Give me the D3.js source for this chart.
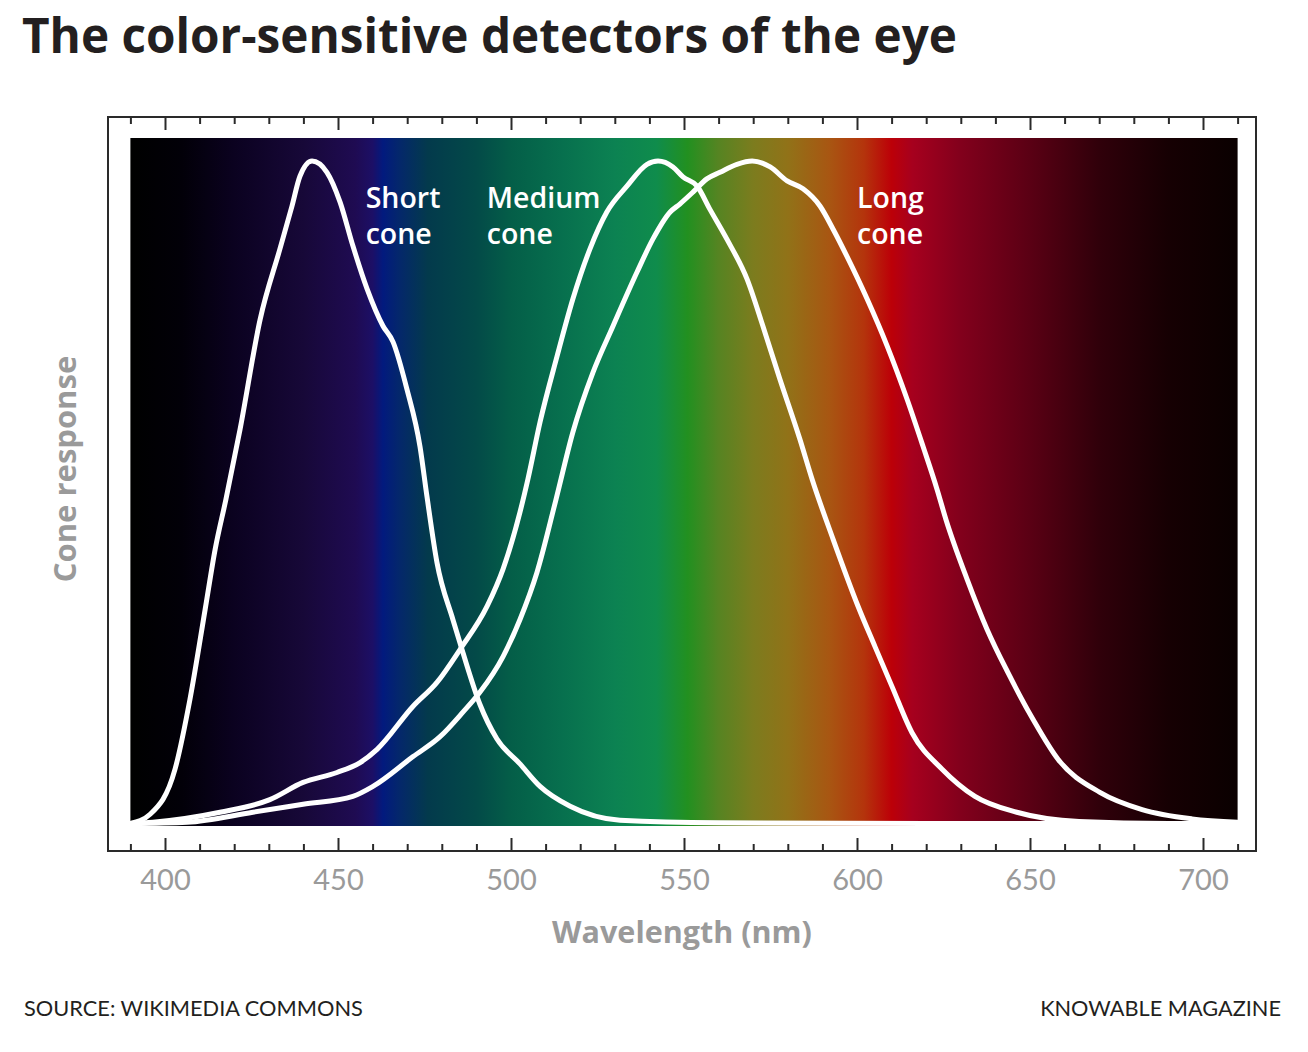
<!DOCTYPE html>
<html>
<head>
<meta charset="utf-8">
<script src="https://cdn.jsdelivr.net/npm/d3@7"></script>
<style>
  html, body { margin: 0; padding: 0; background: #fff; }
  svg { display: block; }
</style>
</head>
<body>
<div id="chart"></div>
<script>
// cone response curves (wavelength nm, relative response)
const shortCone = [
  [390, 0], [395.7, 0.014], [402.9, 0.082], [407.2, 0.187], [411.6, 0.323],
  [414.5, 0.414], [417.6, 0.489], [421.7, 0.595], [427.5, 0.761], [433.2, 0.867],
  [436.7, 0.932], [439.0, 0.977], [442.5, 1.0], [446.8, 0.983], [450.6, 0.938],
  [454.3, 0.872], [458.4, 0.807], [463.0, 0.751], [465.9, 0.727], [469.9, 0.656],
  [473.7, 0.569], [475.7, 0.494], [478.6, 0.394], [483.2, 0.308], [486.1, 0.258],
  [491.0, 0.180], [495.9, 0.128], [502.6, 0.090], [508.4, 0.056], [517.1, 0.026],
  [531.5, 0.005], [560, 0.001], [620, 0], [710, 0]
];

const mediumCone = [
  [390, 0], [396.5, 0.002], [415.9, 0.017], [430.3, 0.036], [439.9, 0.062],
  [449.7, 0.077], [456.4, 0.092], [461.3, 0.112], [471.7, 0.177], [478.6, 0.213],
  [485.3, 0.263], [493.1, 0.328], [497.7, 0.384], [502.6, 0.470], [504.9, 0.520],
  [508.4, 0.606], [513.3, 0.705], [517.9, 0.792], [522.8, 0.867], [527.7, 0.923],
  [533.5, 0.962], [539.3, 0.995], [542.5, 1.0], [546.8, 0.991], [549.7, 0.976],
  [553.8, 0.962], [557.5, 0.927], [562.4, 0.882], [568.2, 0.822], [572.8, 0.751],
  [577.7, 0.671], [583.5, 0.580], [587.0, 0.520], [593.1, 0.429], [600.3, 0.328],
  [605.2, 0.267], [610.1, 0.207], [615.9, 0.137], [624.6, 0.082], [634.1, 0.041],
  [646.2, 0.017], [664.2, 0.003], [690, 0], [710, 0]
];

const longCone = [
  [390, 0], [406.4, 0.002], [425.4, 0.017], [439.9, 0.029], [454.3, 0.041],
  [460.1, 0.056], [471.7, 0.101], [479.5, 0.131], [486.1, 0.168], [491.0, 0.198],
  [497.7, 0.252], [502.6, 0.308], [507.5, 0.379], [513.0, 0.489], [517.9, 0.591],
  [523.7, 0.681], [529.5, 0.751], [536.4, 0.832], [541.0, 0.882], [546.0, 0.923],
  [548.8, 0.935], [552.6, 0.953], [556.6, 0.973], [560.4, 0.983], [565.3, 0.995],
  [569.7, 1.0], [574.9, 0.991], [579.8, 0.970], [584.4, 0.958], [589.3, 0.932],
  [593.1, 0.897], [597.1, 0.856], [602.9, 0.792], [608.7, 0.721], [614.5, 0.640],
  [619.1, 0.569], [623.1, 0.505], [625.7, 0.459], [631.8, 0.369], [637.6, 0.293],
  [643.6, 0.228], [650.9, 0.157], [658.1, 0.097], [670.2, 0.047], [682.4, 0.021],
  [696.8, 0.007], [710, 0.002]
];

// spectrum colours behind the curves
const spectrumNm = [390, 405, 420, 440, 455, 460, 463, 468, 476, 490, 500, 515, 530, 542, 551, 560, 570, 580, 592, 602, 610, 616, 630, 650, 670, 690, 710];
const spectrumColors = ["#000000", "#020008", "#0b0220", "#170838", "#1f0b52", "#1c0f66", "#021a7e", "#04286a", "#033a4c", "#034a48", "#045e48", "#07704e", "#0c8252", "#0f8c4c", "#229020", "#568422", "#7c7c1e", "#917218", "#a85612", "#b4340c", "#bc0008", "#a6001e", "#82001c", "#5a0014", "#30000a", "#160003", "#0a0000"];

const curveLabels = [
  {lines: ["Short", "cone"], nm: 458},
  {lines: ["Medium", "cone"], nm: 493},
  {lines: ["Long", "cone"], nm: 600}
];

const xDomain = [390, 710];
const majorTicks = d3.range(400, 701, 50);
const minorTicks = d3.range(390, 711, 10).filter(d => d % 50 !== 0);

const W = 1308, H = 1052;
const frame = {left: 108, right: 1256, top: 117, bottom: 851};
const plot = {top: 138, bottom: 826};

const svg = d3.select("#chart").append("svg")
  .attr("width", W)
  .attr("height", H);

const x = d3.scaleLinear().domain(xDomain).range([130.4, 1237.6]);
const y = d3.scaleLinear().domain([0, 1]).range([823.5, 161]);

// shrink/grow font so a text spans a given width
function fitWidth(sel, width) {
  let fs = +sel.attr("font-size");
  let w = sel.node().getComputedTextLength();
  if (w > 0) sel.attr("font-size", (fs * width / w).toFixed(2));
}

// gradient
const defs = svg.append("defs");
const grad = defs.append("linearGradient")
  .attr("id", "spectrum")
  .attr("gradientUnits", "userSpaceOnUse")
  .attr("x1", x(xDomain[0])).attr("x2", x(xDomain[1]))
  .attr("y1", 0).attr("y2", 0);
grad.selectAll("stop")
  .data(spectrumNm)
  .join("stop")
    .attr("offset", d => (d - xDomain[0]) / (xDomain[1] - xDomain[0]))
    .attr("stop-color", (d, i) => spectrumColors[i]);

svg.append("rect")
  .attr("x", x(xDomain[0]))
  .attr("y", plot.top)
  .attr("width", x(xDomain[1]) - x(xDomain[0]))
  .attr("height", plot.bottom - plot.top)
  .attr("fill", "url(#spectrum)");

// frame
svg.append("rect")
  .attr("x", frame.left)
  .attr("y", frame.top)
  .attr("width", frame.right - frame.left)
  .attr("height", frame.bottom - frame.top)
  .attr("fill", "none")
  .attr("stroke", "#2a2a2a")
  .attr("stroke-width", 2);

// axes: ticks point into the frame, top and bottom
function styleAxis(g) {
  g.select(".domain").remove();
  g.selectAll(".tick line").attr("stroke", "#2a2a2a").attr("stroke-width", 2);
}

svg.append("g")
  .attr("transform", `translate(0,${frame.bottom})`)
  .call(d3.axisBottom(x).tickValues(minorTicks).tickSize(-7).tickFormat(""))
  .call(styleAxis);

const bottomMajor = svg.append("g")
  .attr("transform", `translate(0,${frame.bottom})`)
  .call(d3.axisBottom(x).tickValues(majorTicks).tickSize(-13).tickFormat(d3.format("d")))
  .call(styleAxis);
bottomMajor.selectAll(".tick text")
  .attr("y", 39)
  .attr("dy", 0)
  .attr("fill", "#9a9a9a")
  .attr("font-family", "Lato, 'Open Sans', sans-serif")
  .attr("font-size", 29);

svg.append("g")
  .attr("transform", `translate(0,${frame.top})`)
  .call(d3.axisTop(x).tickValues(minorTicks).tickSize(-7).tickFormat(""))
  .call(styleAxis);
svg.append("g")
  .attr("transform", `translate(0,${frame.top})`)
  .call(d3.axisTop(x).tickValues(majorTicks).tickSize(-13).tickFormat(""))
  .call(styleAxis);

// curves
const line = d3.line()
  .x(d => x(d[0]))
  .y(d => y(d[1]))
  .curve(d3.curveMonotoneX);

svg.append("g")
  .selectAll("path")
  .data([shortCone, mediumCone, longCone])
  .join("path")
    .attr("d", line)
    .attr("fill", "none")
    .attr("stroke", "#fff")
    .attr("stroke-width", 5)
    .attr("stroke-linejoin", "round")
    .attr("stroke-linecap", "round");

// curve labels
const labelG = svg.append("g")
  .attr("fill", "#fff")
  .attr("font-family", "'Open Sans', sans-serif")
  .attr("font-weight", 600)
  .attr("font-size", 28.5);
curveLabels.forEach(l => {
  const t = labelG.append("text").attr("x", x(l.nm)).attr("y", 208);
  l.lines.forEach((s, i) => {
    t.append("tspan").attr("x", x(l.nm)).attr("dy", i ? 36 : 0).text(s);
  });
});

// axis titles
svg.append("text")
  .attr("x", 682)
  .attr("y", 943)
  .attr("text-anchor", "middle")
  .attr("fill", "#9a9a9a")
  .attr("font-family", "'Open Sans', sans-serif")
  .attr("font-weight", 700)
  .attr("font-size", 30.5)
  .text("Wavelength (nm)");

svg.append("text")
  .attr("transform", "translate(76,469) rotate(-90)")
  .attr("text-anchor", "middle")
  .attr("fill", "#9a9a9a")
  .attr("font-family", "'Open Sans', sans-serif")
  .attr("font-weight", 700)
  .attr("font-size", 31)
  .text("Cone response");

// title
svg.append("text")
  .attr("x", 22)
  .attr("y", 53)
  .attr("fill", "#231f20")
  .attr("font-family", "'Open Sans', sans-serif")
  .attr("font-weight", 700)
  .attr("font-size", 44)
  .text("The color-sensitive detectors of the eye")
  .call(fitWidth, 935);

// footer
svg.append("text")
  .attr("x", 24)
  .attr("y", 1016)
  .attr("fill", "#231f20")
  .attr("font-family", "Lato, sans-serif")
  .attr("font-size", 20)
  .text("SOURCE: WIKIMEDIA COMMONS")
  .call(fitWidth, 339);

svg.append("text")
  .attr("x", 1281)
  .attr("y", 1016)
  .attr("text-anchor", "end")
  .attr("fill", "#231f20")
  .attr("font-family", "Lato, sans-serif")
  .attr("font-size", 20)
  .text("KNOWABLE MAGAZINE")
  .call(fitWidth, 241);
</script>
</body>
</html>
